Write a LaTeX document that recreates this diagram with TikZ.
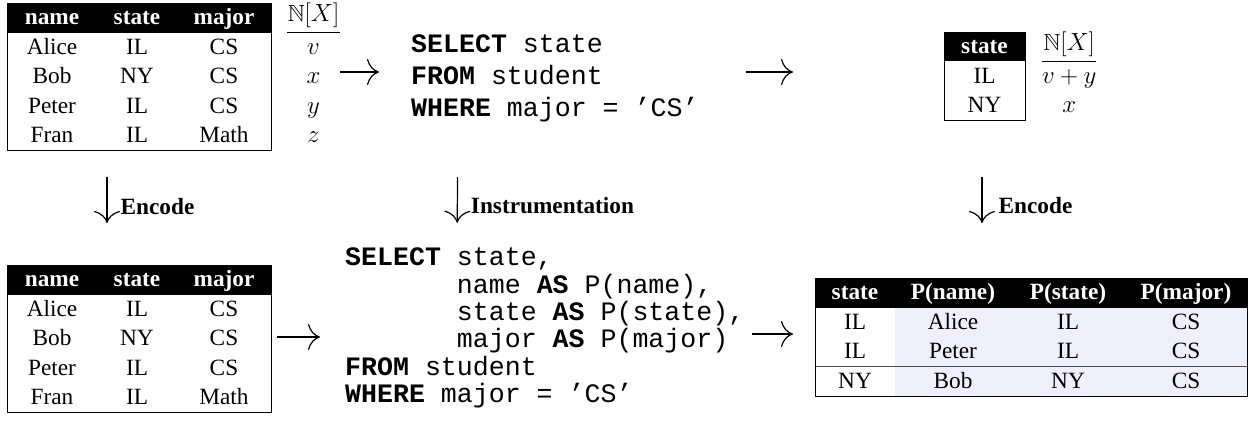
\documentclass[tikz,border=0pt]{standalone}
\usepackage{amssymb}
\usepackage[no-math]{fontspec}
\setmainfont{Liberation Serif}
\setmonofont{Liberation Mono}
\usetikzlibrary{matrix, arrows.meta, backgrounds}
\definecolor{provfill}{RGB}{239,239,252}
\newcommand{\sqlpad}{\hphantom{SELECTx}}

\begin{document}
\begin{tikzpicture}[
x=1pt, y=-1pt,
every node/.style={font=\fontsize{23.3}{28}\selectfont},
rel table/.style={matrix of nodes, anchor=north west, inner sep=0pt, outer sep=0pt,
  nodes={inner sep=0pt, outer sep=0pt, anchor=center, minimum height=29.5pt, text height=17pt, text depth=3pt},
  row 1/.style={nodes={fill=black, text=white, font=\fontsize{23.3}{28}\selectfont\bfseries}}},
ann column/.style={matrix of math nodes, anchor=north west, inner sep=0pt, outer sep=0pt,
  nodes={inner sep=0pt, outer sep=0pt, anchor=center, minimum width=53pt, minimum height=29.5pt, text height=17pt, text depth=3pt},
  row 1/.style={nodes={text height=13.5pt, text depth=6.5pt}}},
tbl frame/.style={draw, line width=0.8pt},
flow arrow/.style={-{Computer Modern Rightarrow[length=12pt,width=26pt]}, line width=1.2pt},
sql/.style={font=\fontsize{26.6}{#1}\selectfont\ttfamily, align=left, inner sep=0pt, anchor=west},
step label/.style={font=\fontsize{23.3}{28}\selectfont\bfseries, anchor=west, inner sep=0pt},
]
\useasboundingbox (0,0) rectangle (1251,433);

% Input relation with its annotations
\matrix (src) [rel table, column 1/.style={nodes={minimum width=90pt}},
  column 2/.style={nodes={minimum width=80pt}}, column 3/.style={nodes={minimum width=94pt}}] at (7,3) {
name & state & major \\
Alice & IL & CS \\
Bob & NY & CS \\
Peter & IL & CS \\
Fran & IL & Math \\
};
\matrix (srcann) [ann column] at (287,3) {
\mathbb{N}[X] \\ v \\ x \\ y \\ z \\
};
\draw[line width=0.8pt] (srcann-2-1.north west) -- (srcann-2-1.north east);

% Query
\node[sql=32] (qry) at (411,78) {\textbf{SELECT} state\\
\textbf{FROM} student\\
\textbf{WHERE} major = ’CS’};

% Result relation with its annotations
\matrix (res) [rel table, column 1/.style={nodes={minimum width=81pt}}] at (944,32) {
state \\ IL \\ NY \\
};
\matrix (resann) [ann column] at (1042,32) {
\mathbb{N}[X] \\ v+y \\ x \\
};
\draw[line width=0.8pt] (resann-2-1.north west) -- (resann-2-1.north east);

% Encoded input relation
\matrix (enc) [rel table, column 1/.style={nodes={minimum width=90pt}},
  column 2/.style={nodes={minimum width=80pt}}, column 3/.style={nodes={minimum width=94pt}}] at (7,265) {
name & state & major \\
Alice & IL & CS \\
Bob & NY & CS \\
Peter & IL & CS \\
Fran & IL & Math \\
};

% Instrumented query
\node[sql=27.4] (ins) at (345,328) {\textbf{SELECT} state,\\
\sqlpad name \textbf{AS} P(name),\\
\sqlpad state \textbf{AS} P(state),\\
\sqlpad major \textbf{AS} P(major)\\
\textbf{FROM} student\\
\textbf{WHERE} major = ’CS’};

% Encoded result relation
\matrix (out) [rel table, column 1/.style={nodes={minimum width=80pt}},
  column 2/.style={nodes={minimum width=116pt}}, column 3/.style={nodes={minimum width=114pt}},
  column 4/.style={nodes={minimum width=122pt}}] at (815,278) {
state & P(name) & P(state) & P(major) \\
IL & Alice & IL & CS \\
IL & Peter & IL & CS \\
NY & Bob & NY & CS \\
};
\begin{scope}[on background layer]
\fill[provfill] (out-2-2.north west) rectangle (out-4-4.south east);
\end{scope}
\draw[line width=0.8pt, black!70] (out-4-1.north west) -- (out-4-4.north east);

\foreach \rel in {src,res,enc,out}
  \draw[tbl frame] (\rel.north west) rectangle (\rel.south east);

% Arrows between the steps
\draw[flow arrow, shorten >=32pt] ([yshift=4.75pt]srcann.east) -- ([yshift=6pt]qry.west);
\draw[flow arrow, shorten <=47.7pt, shorten >=151pt] ([yshift=6pt]qry.east) -- ([yshift=4.25pt]res.west);
\draw[flow arrow, shorten <=6pt, shorten >=25pt] ([yshift=1.75pt]enc.east) -- ([yshift=-9pt]ins.west);
\draw[flow arrow, shorten <=8pt, shorten >=22pt] ([yshift=-6pt]ins.east) -- ([yshift=3pt]out.west);

\draw[flow arrow, shorten <=26.5pt, shorten >=42pt] ([xshift=-32pt]src.south)
  -- node[step label, pos=0.485, xshift=13pt] (lblenc) {Encode} ([xshift=-32pt]enc.north);
\draw[flow arrow, shorten <=55.3pt, shorten >=24.9pt] ([xshift=47pt]qry.south west)
  -- node[step label, pos=0.668, xshift=13pt] (lblins) {Instrumentation} ([xshift=112pt]ins.north west);
\draw[flow arrow, shorten <=56.5pt, shorten >=55pt] ([xshift=-2.5pt]res.south)
  -- node[step label, pos=0.543, xshift=16pt] (lblout) {Encode} ([xshift=-49pt]out.north);
\end{tikzpicture}
\end{document}
